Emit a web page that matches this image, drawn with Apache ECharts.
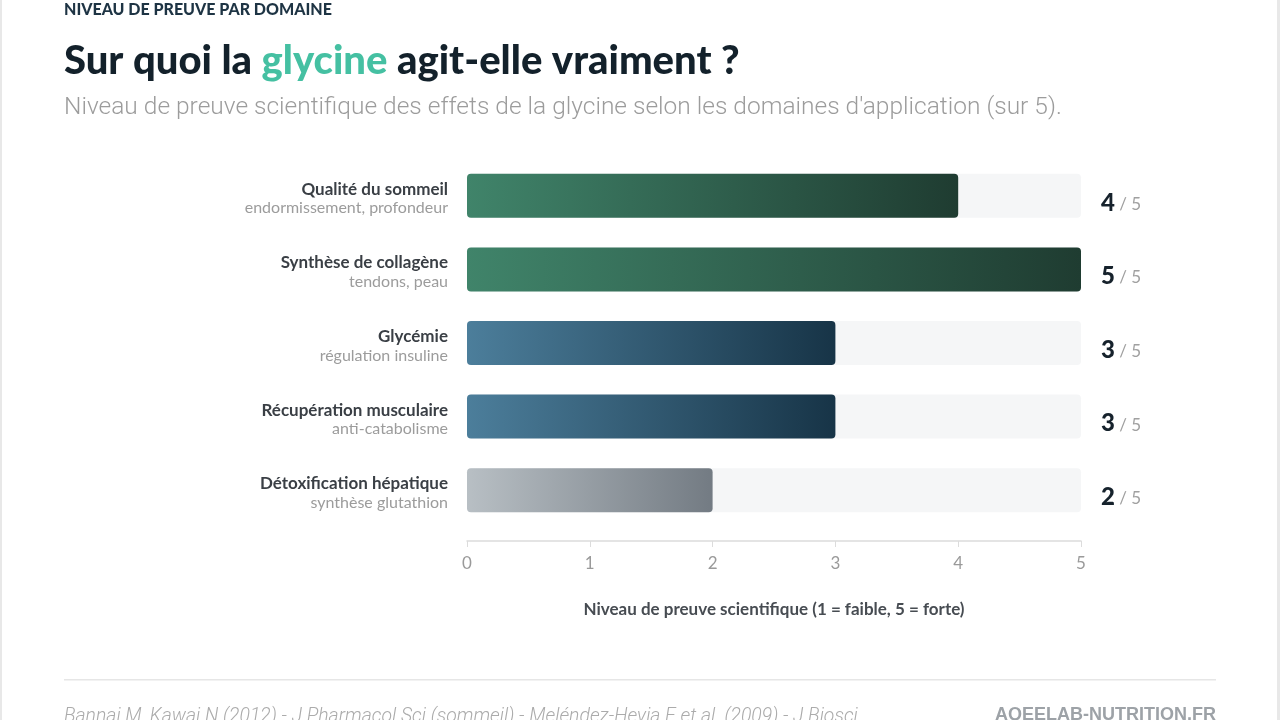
<!DOCTYPE html>
<html>
<head>
<meta charset="utf-8">
<script src="https://cdn.jsdelivr.net/npm/echarts@6/dist/echarts.min.js"></script>
<style>
  html, body { margin: 0; padding: 0; background: #fff; }
  #chart { width: 1280px; height: 720px; }
</style>
</head>
<body>
<div id="chart"></div>
<script>
// domaines, du haut vers le bas
var domains = ['Qualité du sommeil', 'Synthèse de collagène', 'Glycémie', 'Récupération musculaire', 'Détoxification hépatique'];
var details = ['endormissement, profondeur', 'tendons, peau', 'régulation insuline', 'anti-catabolisme', 'synthèse glutathion'];
var scores = [4, 5, 3, 3, 2];
var maxScore = 5;
var xTicks = [0, 1, 2, 3, 4, 5];

// couleurs des barres (gauche -> droite)
var palette = [
  ['#40846a', '#1f3c31'],
  ['#40846a', '#1f3c31'],
  ['#4c7e9b', '#173447'],
  ['#4c7e9b', '#173447'],
  ['#b8bfc4', '#737b83']
];

var chart = echarts.init(document.getElementById('chart'));

function grad(c) {
  return new echarts.graphic.LinearGradient(0, 0, 1, 0, [
    { offset: 0, color: c[0] },
    { offset: 1, color: c[1] }
  ]);
}

var option = {
  backgroundColor: '#ffffff',
  animation: false,
  grid: { left: 467, width: 614, top: 159, height: 368 },
  xAxis: {
    type: 'value',
    min: 0, max: maxScore, interval: 1,
    offset: 14,
    axisLine: { show: true, lineStyle: { color: '#dcdcdc', width: 1.5 } },
    axisTick: { show: true, length: 6, lineStyle: { color: '#dcdcdc' } },
    splitLine: { show: false },
    axisLabel: {
      margin: 14, fontFamily: 'Lato', fontSize: 17, color: '#9a9a9a',
      formatter: function (v) { return xTicks.indexOf(v) >= 0 ? String(v) : ''; }
    },
    name: 'Niveau de preuve scientifique (1 = faible, 5 = forte)',
    nameLocation: 'middle', nameGap: 60,
    nameTextStyle: { fontFamily: 'Lato', fontWeight: 'bold', fontSize: 17, color: '#474c52' }
  },
  yAxis: [{
    type: 'category',
    data: domains,
    inverse: true,
    axisLine: { show: false }, axisTick: { show: false },
    axisLabel: {
      margin: 19, align: 'right', padding: [6, 0, 0, 0],
      formatter: function (v, i) { return '{n|' + v + '}\n{s|' + details[i] + '}'; },
      rich: {
        n: { fontFamily: 'Lato', fontWeight: 'bold', fontSize: 17, color: '#3a3f45', lineHeight: 19, align: 'right' },
        s: { fontFamily: 'Lato', fontSize: 16, color: '#9c9c9c', lineHeight: 19, align: 'right' }
      }
    }
  }, {
    type: 'category',
    data: domains,
    inverse: true,
    position: 'right',
    axisLine: { show: false }, axisTick: { show: false },
    axisLabel: {
      margin: 20, align: 'left', padding: [14, 0, 0, 0],
      formatter: function (v, i) { return '{v|' + scores[i] + '}{d| / ' + maxScore + '}'; },
      rich: {
        v: { fontFamily: 'Lato', fontWeight: 900, fontSize: 24, color: '#16222c' },
        d: { fontFamily: 'Lato', fontSize: 17, color: '#a0a0a0', padding: [3, 0, 0, 0] }
      }
    }
  }],
  series: [{
    type: 'bar',
    barWidth: 44,
    showBackground: true,
    backgroundStyle: { color: '#f5f6f7', borderRadius: 4 },
    data: scores.map(function (s, i) {
      return { value: s, itemStyle: { color: grad(palette[i]), borderRadius: 4 } };
    })
  }],
  graphic: [
    { type: 'rect', left: 0, top: 0, shape: { width: 2, height: 720 }, style: { fill: '#e8e8e8' }, silent: true },
    { type: 'rect', right: 0, top: 0, shape: { width: 3, height: 720 }, style: { fill: '#e8e8e8' }, silent: true },
    {
      type: 'text', x: 64, y: 10,
      style: { text: 'NIVEAU DE PREUVE PAR DOMAINE', font: '900 16px Lato', fill: '#1e3444', verticalAlign: 'middle' }
    },
    {
      type: 'text', x: 64, y: 61,
      style: {
        text: '{a|Sur quoi la }{g|glycine}{a| agit-elle vraiment ?}',
        verticalAlign: 'middle',
        rich: {
          a: { font: '900 40px Lato', fill: '#13212b' },
          g: { font: '900 40px Lato', fill: '#45c0a2' }
        }
      }
    },
    {
      type: 'text', x: 64, y: 108,
      style: {
        text: "Niveau de preuve scientifique des effets de la glycine selon les domaines d'application (sur 5).",
        font: '300 24.5px Roboto', fill: '#9c9c9c', verticalAlign: 'middle'
      }
    },
    { type: 'rect', left: 64, top: 679, shape: { width: 1152, height: 1.5 }, style: { fill: '#e6e6e6' }, silent: true },
    {
      type: 'text', left: 64, top: 708,
      style: {
        text: 'Bannai M, Kawai N (2012) - J Pharmacol Sci (sommeil) - Meléndez-Hevia E et al. (2009) - J Biosci',
        font: 'italic 300 19.4px Roboto', fill: '#ababab'
      }
    },
    {
      type: 'text', right: 64, top: 706,
      style: {
        text: 'AQEELAB-NUTRITION.FR',
        font: 'bold 18px "Liberation Sans"', fill: '#9da2a7'
      }
    }
  ]
};

chart.setOption(option);
</script>
</body>
</html>
